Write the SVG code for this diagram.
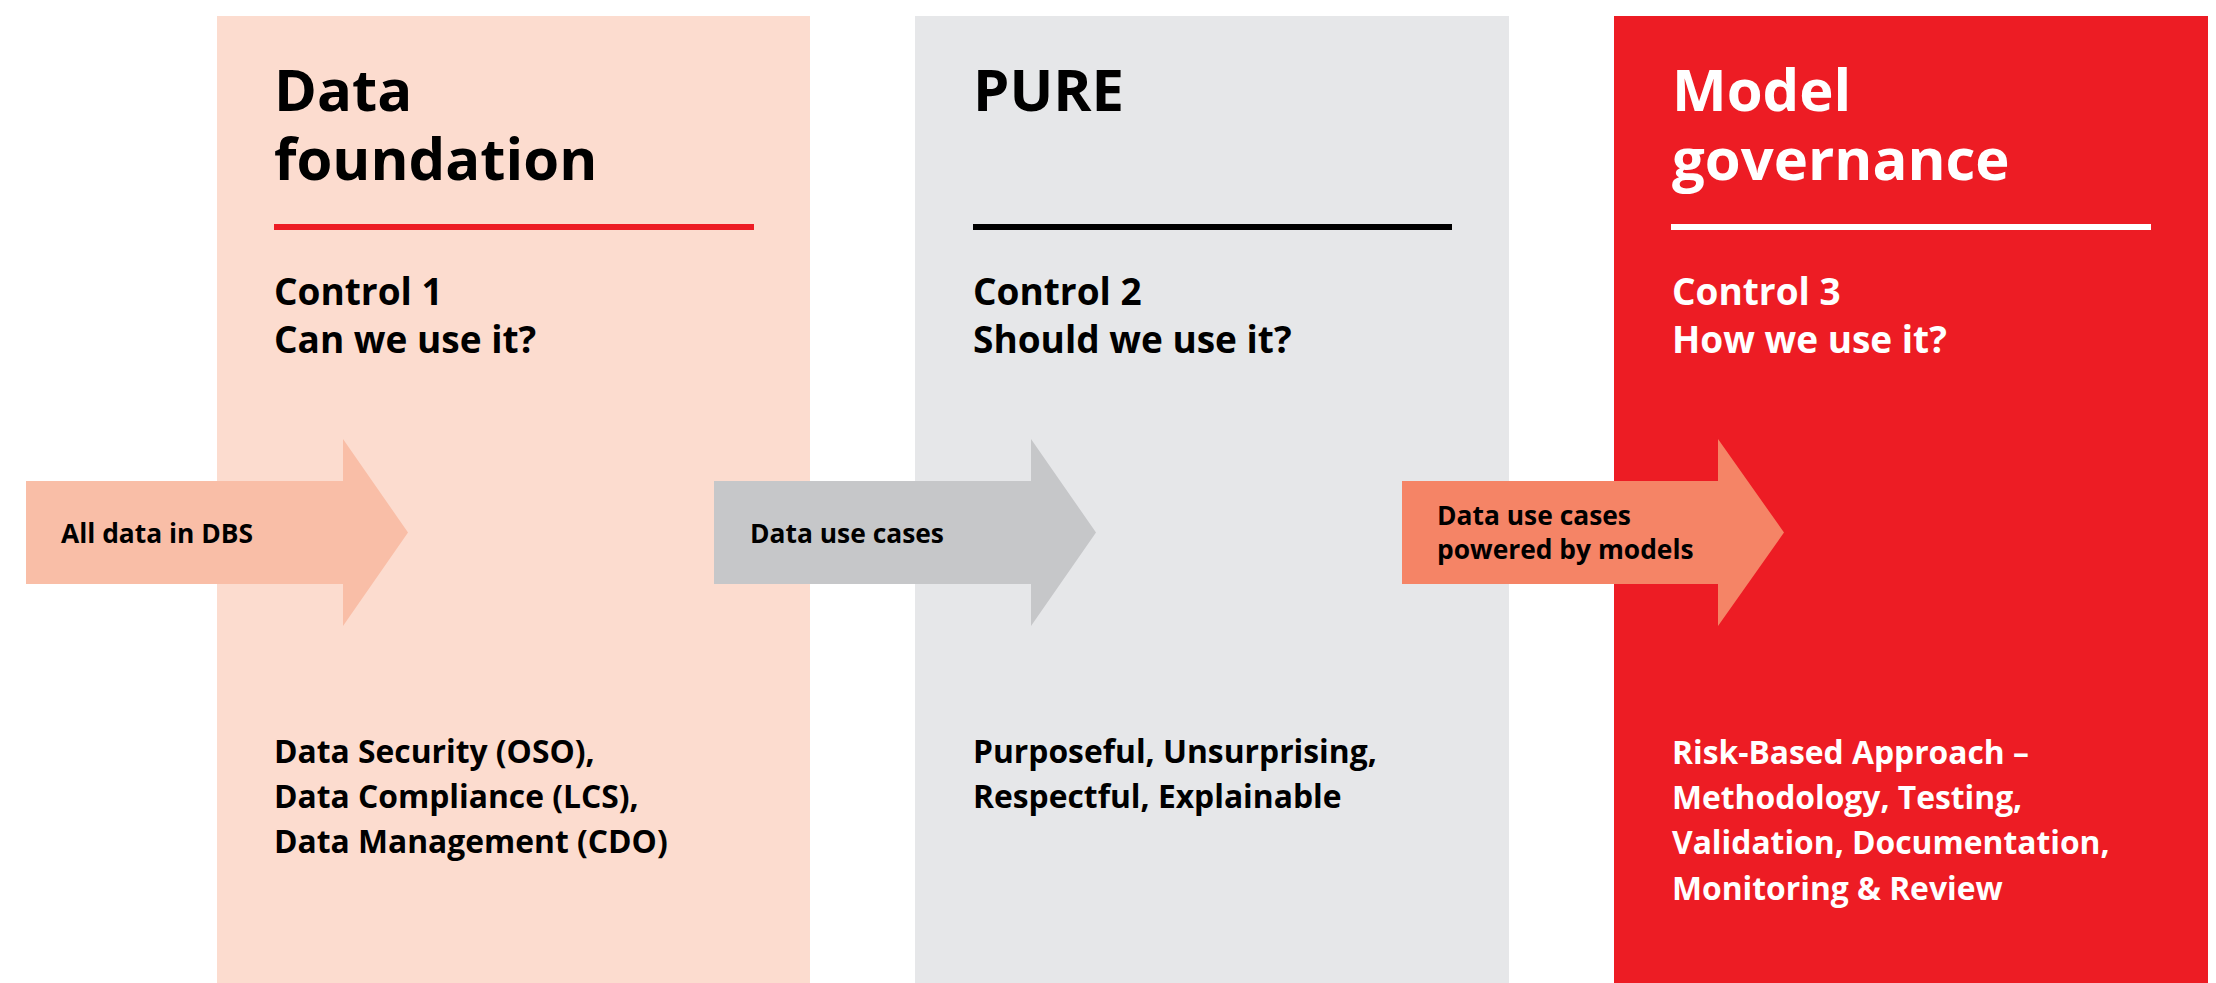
<svg xmlns="http://www.w3.org/2000/svg" width="2216" height="983" viewBox="0 0 2216 983">
<style>
text{font-family:"Open Sans","Noto Sans","Liberation Sans",sans-serif;font-weight:700}
.h{font-size:58px}
.c{font-size:37px}
.b{font-size:31.8px}
.a{font-size:26.4px}
.dk{fill:#000}
.wt{fill:#fff}
</style>
<rect width="2216" height="983" fill="#fff"/>
<g id="col1">
<rect x="217" y="16" width="593" height="967" fill="#FCDCCF"/>
<text class="h dk" x="274" y="111">Data</text>
<text class="h dk" x="274" y="180">foundation</text>
<rect x="274" y="224" width="480" height="6" fill="#ED1C24"/>
<text class="c dk" x="274" y="305">Control 1</text>
<text class="c dk" x="274" y="353">Can we use it?</text>
<text class="b dk" x="274" y="763">Data Security (OSO),</text>
<text class="b dk" x="274" y="808">Data Compliance (LCS),</text>
<text class="b dk" x="274" y="853">Data Management (CDO)</text>
</g>
<g id="col2">
<rect x="915" y="16" width="594" height="967" fill="#E6E7E9"/>
<text class="h dk" x="973" y="111">PURE</text>
<rect x="973" y="224" width="479" height="6" fill="#000"/>
<text class="c dk" x="973" y="305">Control 2</text>
<text class="c dk" x="973" y="353">Should we use it?</text>
<text class="b dk" x="973" y="763">Purposeful, Unsurprising,</text>
<text class="b dk" x="973" y="808">Respectful, Explainable</text>
</g>
<g id="col3">
<rect x="1614" y="16" width="594" height="967" fill="#ED1C24"/>
<text class="h wt" x="1672" y="111">Model</text>
<text class="h wt" x="1672" y="180">governance</text>
<rect x="1671" y="224" width="480" height="6" fill="#fff"/>
<text class="c wt" x="1672" y="305">Control 3</text>
<text class="c wt" x="1672" y="353">How we use it?</text>
<text class="b wt" x="1672" y="764">Risk-Based Approach –</text>
<text class="b wt" x="1672" y="809">Methodology, Testing,</text>
<text class="b wt" x="1672" y="854">Validation, Documentation,</text>
<text class="b wt" x="1672" y="900">Monitoring &amp; Review</text>
</g>
<g id="connectors">
<g id="arrow1">
<polygon points="26,481 343,481 343,439 408,532.5 343,626 343,584 26,584" fill="#F9BEA7"/>
<text class="a dk" x="61" y="543">All data in DBS</text>
</g>
<g id="arrow2">
<polygon points="714,481 1031,481 1031,439 1096,532.5 1031,626 1031,584 714,584" fill="#C6C7C9"/>
<text class="a dk" x="750" y="543">Data use cases</text>
</g>
<g id="arrow3">
<polygon points="1402,481 1718,481 1718,439 1784,532.5 1718,626 1718,584 1402,584" fill="#F58466"/>
<text class="a dk" x="1437" y="525">Data use cases</text>
<text class="a dk" x="1437" y="559">powered by models</text>
</g>
</g>
</svg>
